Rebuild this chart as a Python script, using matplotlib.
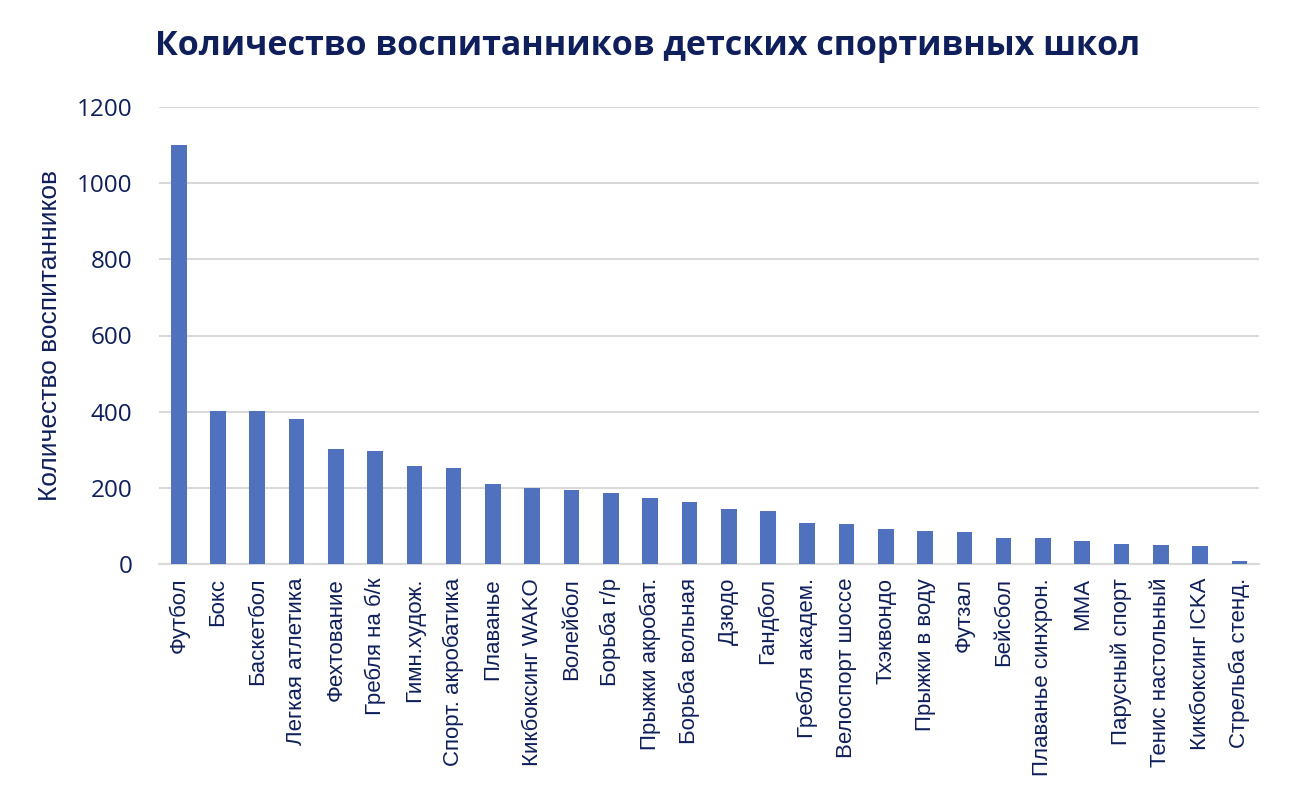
import matplotlib
matplotlib.use('Agg')
import matplotlib.pyplot as plt

plt.rcParams['font.family'] = ['Open Sans', 'DejaVu Sans']

sports = ['Футбол', 'Бокс', 'Баскетбол', 'Легкая атлетика', 'Фехтование',
          'Гребля на б/к', 'Гимн.худож.', 'Спорт. акробатика', 'Плаванье',
          'Кикбоксинг WAKO', 'Волейбол', 'Борьба г/р', 'Прыжки акробат.',
          'Борьба вольная', 'Дзюдо', 'Гандбол', 'Гребля академ.',
          'Велоспорт шоссе', 'Тхэквондо', 'Прыжки в воду', 'Футзал',
          'Бейсбол', 'Плаванье синхрон.', 'ММА', 'Парусный спорт',
          'Тенис настольный', 'Кикбоксинг ICKA', 'Стрельба стенд.']
pupils = [1100, 402, 402, 382, 302, 296, 257, 252, 211, 200, 195, 186, 174,
          163, 145, 139, 108, 105, 92, 86, 83, 69, 69, 60, 52, 49, 46, 7]
yticks = [0, 200, 400, 600, 800, 1000, 1200]

navy = '#0e1f5b'
arial = ['Liberation Sans', 'DejaVu Sans']

fig = plt.figure(figsize=(12.9, 8.08), dpi=100)
ax = fig.add_axes([159 / 1290, 1 - 564 / 808, 1100 / 1290, 457 / 808])

x = range(len(sports))
ax.bar(x, pupils, width=0.4, color='#4f71be', zorder=3)

ax.set_xlim(-0.5, len(sports) - 0.5)
ax.set_ylim(0, 1200)
ax.set_yticks(yticks)
ax.set_xticks(list(x))
ax.set_xticklabels(sports, rotation=90, fontsize=16, color=navy, family=arial)
ax.tick_params(axis='y', labelsize=17.5, labelcolor=navy, length=0, pad=19)
ax.tick_params(axis='x', length=0, pad=10)
ax.grid(axis='y', color='#d9d9d9', linewidth=1.5, zorder=0)
for s in ['top', 'right', 'left']:
    ax.spines[s].set_visible(False)
ax.spines['bottom'].set_color('#d9d9d9')
ax.spines['bottom'].set_linewidth(1.5)

ax.set_ylabel('Количество воспитанников', fontsize=19, color=navy,
              family=arial, labelpad=11)
fig.text(155 / 1290, 1 - 46 / 808, 'Количество воспитанников детских спортивных школ',
         fontsize=24.5, fontweight='bold', color=navy, va='center', ha='left')

fig.savefig('out.png', dpi=100)
